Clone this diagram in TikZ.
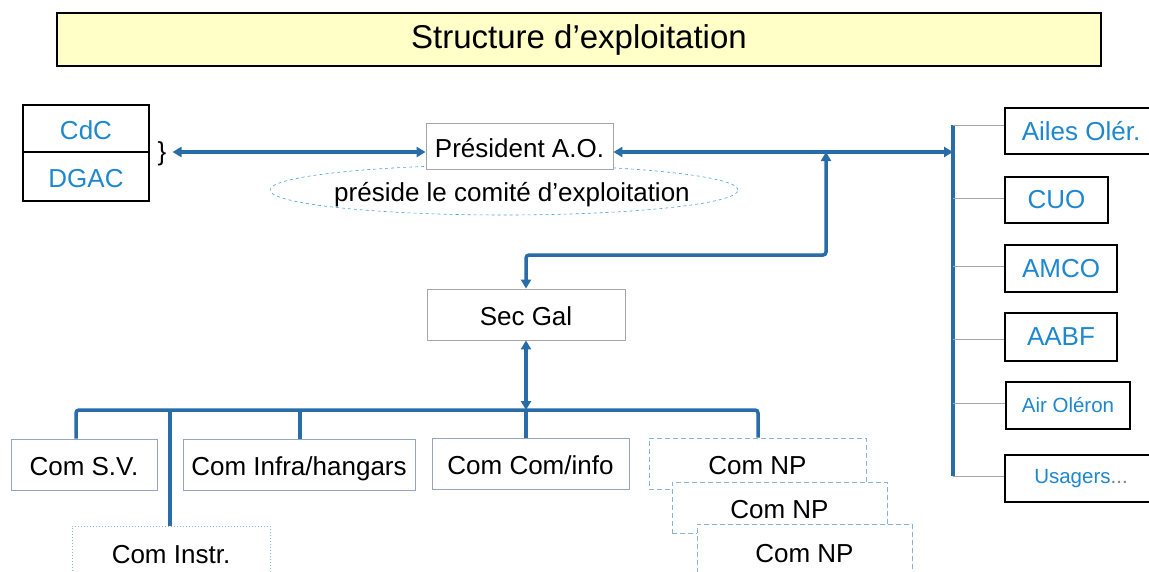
\documentclass[tikz,border=0pt]{standalone}
\usepackage{fontspec}
\setmainfont{Liberation Sans}
\usetikzlibrary{arrows.meta,shapes.geometric,calc}
\definecolor{connblue}{RGB}{40,108,168}
\definecolor{txtblue}{RGB}{30,136,206}
\definecolor{titlefill}{RGB}{255,255,200}
\definecolor{lightbox}{RGB}{150,165,185}
\definecolor{dashblue}{RGB}{140,180,210}
\tikzset{
  conn/.style={draw=connblue, line width=3.5pt, {Triangle[length=9pt,width=10pt]}-{Triangle[length=9pt,width=10pt]}},
  bus/.style={draw=connblue, line width=3.5pt, rounded corners=3pt},
  thinline/.style={draw=gray!70, line width=0.8pt},
  bodytext/.style={font=\fontsize{26}{30}\selectfont, text height=23pt, text depth=1pt},
  greybox/.style={draw=gray!70, line width=0.8pt, fill=white, bodytext, inner sep=0pt},
  combox/.style={draw=lightbox, line width=0.8pt, fill=white, bodytext, inner sep=0pt},
  npbox/.style={draw=dashblue, line width=1pt, dash pattern=on 5pt off 3pt, fill=white, bodytext, inner sep=0pt},
  rightbox/.style={draw=black, line width=2pt, fill=white, text=txtblue, inner sep=0pt},
}
\begin{document}
\begin{tikzpicture}[x=1pt,y=-1pt]
\clip (0,0) rectangle (1149,571);
\fill[white] (0,0) rectangle (1149,571);

% title
\node[draw=black, line width=2pt, fill=titlefill, minimum width=1044pt, minimum height=53pt,
      font=\fontsize{33}{38}\selectfont] (title) at (579,39.5) {Structure d’exploitation};

% CdC / DGAC
\node[draw=black, line width=1.6pt, minimum width=126pt, minimum height=47pt, inner sep=0pt,
      text=txtblue, bodytext] (cdc) at (86,128.5) {CdC};
\node[draw=black, line width=1.6pt, minimum width=126pt, minimum height=49pt, inner sep=0pt,
      text=txtblue, bodytext] (dgac) at (86,176.5) {DGAC};
\node[font=\fontsize{26}{30}\selectfont, inner sep=0pt] (brace) at (162,154) {\}};

% ellipse + president
\node[draw=txtblue!80, dashed, line width=0.6pt, ellipse, minimum width=468pt, minimum height=50pt,
      inner sep=0pt] (ell) at (504,190) {};
\node[bodytext] (preside) at (512,190) {préside le comité d’exploitation};
\node[greybox, minimum width=187pt, minimum height=46pt] (pres) at (519.5,146) {Président A.O.};

% Sec Gal
\node[greybox, minimum width=198pt, minimum height=51pt] (sec) at (526,314.5) {Sec Gal};

% Commissions
\node[combox, minimum width=146pt, minimum height=51pt] (sv) at (84,464.5) {Com S.V.};
\node[combox, minimum width=232pt, minimum height=51pt] (infra) at (299,464.5) {Com Infra/hangars};
\node[combox, minimum width=197pt, minimum height=51pt] (cominfo) at (530.5,463.5) {Com Com/info};
\node[draw=dashblue, line width=1pt, dotted, fill=white, inner sep=0pt,
      minimum width=198pt, minimum height=70pt] (instr) at (171,561) {};
\node[bodytext] (instrtxt) at (171,552) {Com Instr.};
\node[npbox, minimum width=217pt, minimum height=51pt] (np1) at (757.5,463.5) {Com NP};
\node[npbox, minimum width=215pt, minimum height=51pt] (np2) at (779.5,507.5) {Com NP};
\node[npbox, minimum width=215pt, minimum height=70pt] (np3) at (804.5,559) {};
\node[bodytext] (np3txt) at (804.5,551) {Com NP};

% right boxes
\node[rightbox, minimum width=152pt, minimum height=46pt, font=\fontsize{26}{30}\selectfont] (ailes) at (1081,131) {Ailes Olér.};
\node[rightbox, minimum width=103pt, minimum height=46pt, font=\fontsize{26}{30}\selectfont] (cuo) at (1056.5,200) {CUO};
\node[rightbox, minimum width=112pt, minimum height=47pt, font=\fontsize{26}{30}\selectfont] (amco) at (1061,268.5) {AMCO};
\node[rightbox, minimum width=112pt, minimum height=48pt, font=\fontsize{26}{30}\selectfont] (aabf) at (1061,337) {AABF};
\node[rightbox, minimum width=124pt, minimum height=47pt, font=\fontsize{20.5}{24}\selectfont] (airol) at (1068,405.5) {Air Oléron};
\node[rightbox, minimum width=152pt, minimum height=47pt, font=\fontsize{20.5}{24}\selectfont] (usag) at (1081,478.5) {Usagers\textcolor{gray}{...}};

% right bar
\coordinate (bt) at (953,125);
\coordinate (b2) at (953,198);
\coordinate (b3) at (953,266);
\coordinate (b4) at (953,339);
\coordinate (b5) at (953,403);
\coordinate (bb) at (953,476);
\coordinate (barr) at (953,152);
\draw[connblue, line width=3.5pt] (bt) -- (bb);
\draw[thinline] (bt) -- (bt -| ailes.west);
\draw[thinline] (b2) -- (b2 -| cuo.west);
\draw[thinline] (b3) -- (b3 -| amco.west);
\draw[thinline] (b4) -- (b4 -| aabf.west);
\draw[thinline] (b5) -- (b5 -| airol.west);
\draw[thinline] (bb) -- (bb -| usag.west);

% top arrows
\draw[conn] ([xshift=6pt,yshift=2pt]brace.east) -- ([yshift=-6pt]pres.west);
\draw[conn] ([yshift=-6pt]pres.east) -- (barr);
\coordinate (j1) at (826,152);
\coordinate (j2) at (826,255);
\draw[conn, rounded corners=3pt] (j1) -- (j2) -| (sec.north);

% bus
\coordinate (busc) at (526,410);
\draw[conn] (sec.south) -- (busc);
\coordinate (busL) at (76,410);
\coordinate (busR) at (758,410);
\draw[bus] (sv.north -| busL) -- (busL) -- (busR) -- (np1.north -| busR);
\draw[connblue, line width=3.5pt] (170,410) -- (instr.north -| 170,0);
\draw[connblue, line width=3.5pt] (300,410) -- (infra.north -| 300,0);
\draw[connblue, line width=3.5pt] (busc) -- (cominfo.north -| busc);
\end{tikzpicture}
\end{document}
